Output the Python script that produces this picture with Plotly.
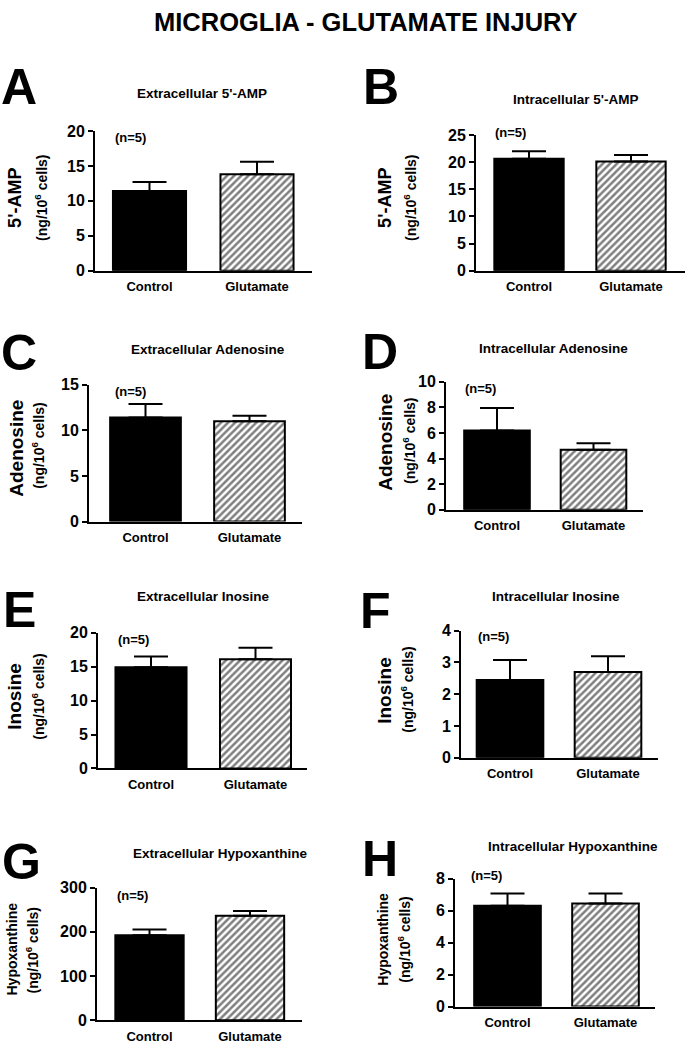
import plotly.graph_objects as go

# ---------------- data ----------------
panel_letters = ["A", "B", "C", "D", "E", "F", "G", "H"]
panel_titles = [
    "Extracellular 5'-AMP", "Intracellular 5'-AMP",
    "Extracellular Adenosine", "Intracellular Adenosine",
    "Extracellular Inosine", "Intracellular Inosine",
    "Extracellular Hypoxanthine", "Intracellular Hypoxanthine",
]
y_titles = ["5'-AMP", "5'-AMP", "Adenosine", "Adenosine",
            "Inosine", "Inosine", "Hypoxanthine", "Hypoxanthine"]
y_units = "(ng/10<sup>6</sup> cells)"
groups = ["Control", "Glutamate"]
y_max = [20, 25, 15, 10, 20, 4, 300, 8]
y_dtick = [5, 5, 5, 2, 5, 1, 100, 2]
control_mean = [11.4, 20.6, 11.4, 6.2, 14.9, 2.45, 192, 6.3]
control_sem = [1.3, 1.4, 1.5, 1.75, 1.6, 0.63, 13, 0.78]
glutamate_mean = [13.8, 20.1, 11.0, 4.7, 16.1, 2.7, 236, 6.45]
glutamate_sem = [1.8, 1.2, 0.6, 0.5, 1.7, 0.5, 11, 0.62]
n_label = "(n=5)"
main_title = "MICROGLIA - GLUTAMATE INJURY"

# ---------------- layout geometry (pixels of the page) ----------------
W, H = 686, 1050
FONT = "Liberation Sans"

def px(x):
    return min(max(x / W, 0), 1)

def py(y):
    return min(max(1 - y / H, 0), 1)

# bar centres and axis extents: c0, c1, axis_left, axis_right, ytop, ybottom
boxes = [
    (149.5, 257.0, 95, 312, 125, 267),
    (529.0, 631.0, 476, 685, 129, 267),
    (145.5, 249.5, 89, 302, 383, 522),
    (497.0, 593.5, 446, 643, 380, 510),
    (151.0, 255.5, 98, 307, 635, 773),
    (510.0, 608.0, 461, 658, 633, 762),
    (149.5, 250.0, 97, 302, 894, 1029),
    (507.5, 605.5, 455, 655, 885, 1015),
]
letter_pos = [(19, 80), (381, 80), (19, 351), (380, 350),
              (19, 612), (376, 613), (21, 868), (380, 865)]
title_pos = [(202, 87), (576, 93), (208, 347), (553, 346),
             (203, 598), (556, 598), (220, 859), (573, 852)]
ytitle_pos = [(15, 193), (385, 193), (17, 448), (386, 442),
              (15, 700), (385, 693), (12, 957), (383, 947)]
yunit_pos = [(41, 193), (410, 193), (38, 445), (409, 440),
             (38, 700), (407, 693), (33, 958), (404, 947)]
ytitle_size = [18, 18, 19, 19, 19, 19, 14, 14]
n_pos = [(130, 132), (510, 127), (130, 390), (480, 387),
         (133, 642), (493, 639), (132, 902), (486, 882)]

fig = go.Figure()
annotations = []

for i in range(8):
    sfx = "" if i == 0 else str(i + 1)
    c0, c1, ax0, ax1, yt, yb = boxes[i]
    s = c1 - c0
    xr = [(ax0 - c0) / s, 1 + (ax1 - c1) / s]
    fig.add_trace(go.Bar(
        x=[0], y=[control_mean[i]], width=0.68, name=groups[0],
        marker=dict(color="black", line=dict(color="black", width=2)),
        error_y=dict(type="data", symmetric=False, array=[control_sem[i]],
                     arrayminus=[0], color="black", thickness=2, width=17),
        xaxis="x" + sfx, yaxis="y" + sfx, showlegend=False,
    ))
    fig.add_trace(go.Bar(
        x=[1], y=[glutamate_mean[i]], width=0.68, name=groups[1],
        marker=dict(
            color="white", line=dict(color="black", width=2),
            pattern=dict(shape="/", fgcolor="black", bgcolor="white",
                         size=5, solidity=0.5),
        ),
        error_y=dict(type="data", symmetric=False, array=[glutamate_sem[i]],
                     arrayminus=[0], color="black", thickness=2, width=17),
        xaxis="x" + sfx, yaxis="y" + sfx, showlegend=False,
    ))
    fig.layout["xaxis" + sfx] = dict(
        domain=[px(ax0), px(ax1)], range=xr, anchor="y" + sfx,
        tickmode="array", tickvals=[0, 1], ticktext=groups,
        showline=True, linecolor="black", linewidth=2, ticks="",
        ticklabelstandoff=3,
        showgrid=False, zeroline=False, fixedrange=True,
        tickfont=dict(family=FONT, size=13, color="black", weight="bold"),
    )
    fig.layout["yaxis" + sfx] = dict(
        domain=[py(yb), py(yt)], range=[0, y_max[i]], anchor="x" + sfx,
        dtick=y_dtick[i], tick0=0,
        showline=True, linecolor="black", linewidth=2,
        ticks="outside", ticklen=5, tickwidth=2, tickcolor="black",
        showgrid=False, zeroline=False, fixedrange=True,
        tickfont=dict(family=FONT, size=16, color="black", weight="bold"),
    )
    annotations.append(dict(
        text=panel_letters[i], x=px(letter_pos[i][0]), y=py(letter_pos[i][1]),
        xref="paper", yref="paper", showarrow=False, xanchor="center", yanchor="middle",
        font=dict(family=FONT, size=50, color="black", weight="bold")))
    annotations.append(dict(
        text=panel_titles[i], x=px(title_pos[i][0]), y=py(title_pos[i][1]),
        xref="paper", yref="paper", showarrow=False, xanchor="center", yanchor="middle",
        font=dict(family=FONT, size=13.5, color="black", weight="bold")))
    annotations.append(dict(
        text=y_titles[i], x=px(ytitle_pos[i][0]), y=py(ytitle_pos[i][1]),
        xref="paper", yref="paper", showarrow=False, textangle=-90,
        xanchor="center", yanchor="middle",
        font=dict(family=FONT, size=ytitle_size[i], color="black", weight="bold")))
    annotations.append(dict(
        text=y_units, x=px(yunit_pos[i][0]), y=py(yunit_pos[i][1]),
        xref="paper", yref="paper", showarrow=False, textangle=-90,
        xanchor="center", yanchor="middle",
        font=dict(family=FONT, size=14, color="black", weight="bold")))
    annotations.append(dict(
        text=n_label, x=px(n_pos[i][0]), y=py(n_pos[i][1]),
        xref="paper", yref="paper", showarrow=False, xanchor="center", yanchor="middle",
        font=dict(family=FONT, size=13, color="black", weight="bold")))

annotations.append(dict(
    text=main_title, x=px(366), y=py(14), xref="paper", yref="paper",
    showarrow=False, xanchor="center", yanchor="middle",
    font=dict(family=FONT, size=25.5, color="black", weight="bold")))

fig.update_layout(
    width=W, height=H, margin=dict(l=0, r=0, t=0, b=0),
    paper_bgcolor="white", plot_bgcolor="white",
    annotations=annotations, barmode="overlay",
    font=dict(family=FONT, color="black"),
)

fig.write_html("out.html", config={"displayModeBar": False},
               post_script="document.body.style.margin='0';document.body.style.padding='0';")
